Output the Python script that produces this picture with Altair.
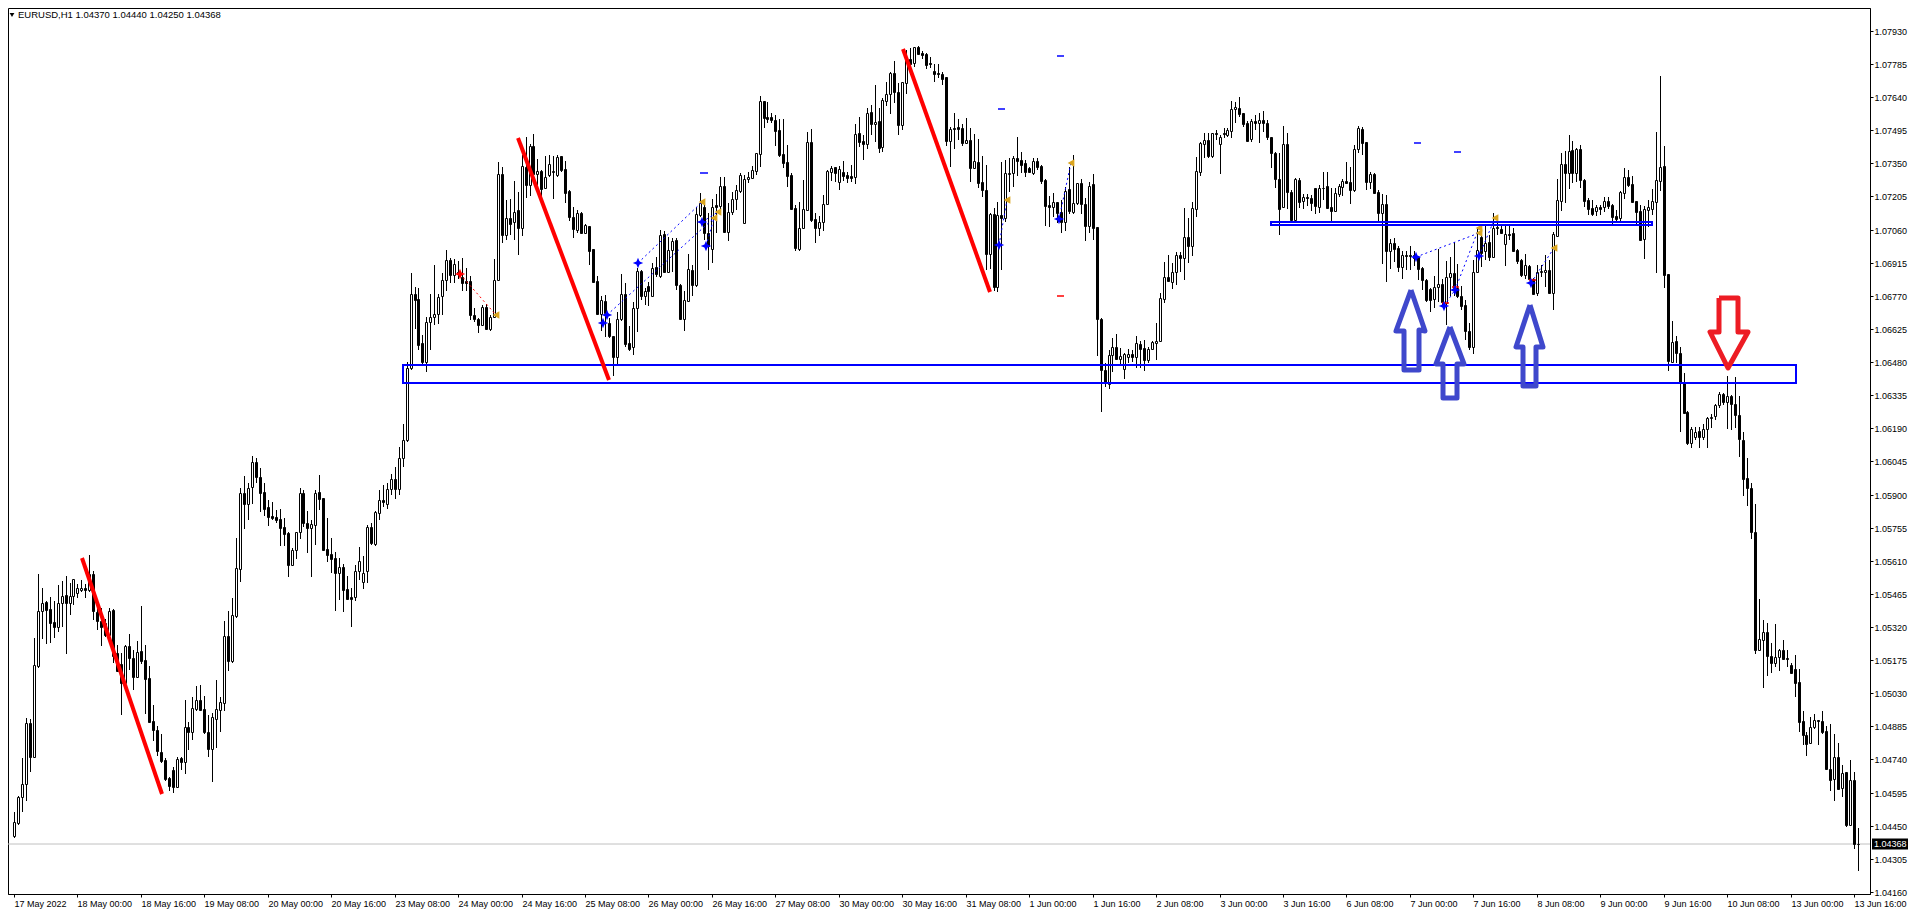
import altair as alt
import pandas as pd

# price values are stored as points above 1.00000 (1 point = 0.00001)
opens = [
4403,4464,4575,4632,4899,4749,5150,5389,5428,5398,
5342,5322,5424,5461,5427,5455,5468,5480,5490,5480,
5551,5386,5348,5337,5285,5395,5205,5159,5074,5236,
5183,5103,5214,5176,5096,4908,4870,4772,4738,4660,
4695,4619,4746,4727,4881,4861,4963,5000,4962,4861,
4784,4919,4957,4989,5281,5169,5370,5576,5906,5859,
5932,6041,5976,5911,5844,5806,5800,5792,5757,5732,
5592,5656,5735,5906,5777,5755,5767,5911,5884,5660,
5638,5621,5558,5584,5485,5450,5453,5567,5519,5565,
5756,5683,5821,5876,5860,5925,5970,5925,6060,6140,
6453,6778,6755,6562,6482,6654,6679,6689,6767,6838,
6926,6862,6876,6854,6835,6834,6685,6668,6640,6721,
6625,6679,6838,7302,7038,7110,7091,7146,7069,7334,
7255,7426,7302,7315,7241,7299,7314,7299,7381,7324,
7229,7114,7059,7131,7047,7075,6975,6834,6689,6746,
6650,6595,6504,6668,6777,6565,6544,6716,6879,6771,
6813,6771,6895,6858,7039,6876,6971,7015,6818,6669,
6749,6883,6818,7124,7158,7047,6975,7168,7165,7251,
7051,7136,7193,7229,7088,7280,7287,7318,7391,7622,
7552,7552,7540,7496,7390,7355,7299,7156,6975,7066,
7146,7442,7105,7069,7095,7171,7314,7333,7270,7311,
7299,7295,7292,7481,7448,7436,7573,7522,7535,7423,
7624,7652,7746,7661,7518,7703,7807,7791,7861,7835,
7829,7791,7753,7746,7741,7727,7449,7503,7508,7505,
7440,7451,7328,7356,7268,7233,6955,7127,6810,7122,
7112,7305,7306,7372,7365,7350,7328,7309,7359,7338,
7277,7168,7160,7179,7138,7092,7236,7138,7175,7262,
7171,7077,7258,7070,6669,6443,6384,6511,6548,6492,
6448,6500,6514,6500,6558,6540,6489,6536,6565,6574,
6758,6854,6832,6876,6947,6934,7026,6990,7149,7314,
7436,7451,7384,7481,7436,7483,7474,7493,7586,7592,
7569,7528,7455,7536,7525,7540,7528,7464,7397,7280,
7158,7435,7226,7102,7277,7183,7202,7197,7242,7158,
7244,7251,7158,7143,7216,7248,7273,7267,7231,7413,
7501,7442,7270,7304,7226,7134,7172,6964,7000,6978,
6898,6949,6949,6949,6939,6891,6840,6800,6755,6810,
6822,6738,6851,6869,6806,6770,6730,6616,6548,6872,
7026,6964,7007,6942,7070,7061,6996,7040,7044,6971,
6927,6859,6901,6843,6781,6875,6872,6883,6784,7032,
7186,7349,7309,7408,7306,7411,7279,7189,7153,7142,
7158,7160,7185,7167,7119,7109,7221,7288,7258,7185,
7141,7017,7145,7150,7179,7274,7338,6865,6481,6572,
6518,6391,6260,6124,6153,6179,6150,6185,6233,6245,
6292,6340,6303,6331,6295,6248,6138,5971,5927,5734,
5219,5263,5300,5195,5161,5187,5219,5183,5154,5135,
5078,4909,4847,4811,4884,4913,4909,4865,4699,4653,
4751,4614,4684,4453,4650,4370]
highs = [
4512,4580,4746,4921,4916,5271,5551,5490,5434,5450,
5433,5504,5522,5544,5512,5532,5507,5525,5509,5636,
5567,5424,5402,5356,5402,5398,5242,5205,5242,5288,
5220,5258,5412,5242,5150,4979,4887,4852,4746,4665,
4706,4749,4749,5001,4906,5013,5062,5067,5018,4935,
4943,5089,5013,5345,5389,5447,5709,5927,5981,5949,
6069,6059,6014,5949,5876,5868,5833,5836,5796,5738,
5665,5738,5927,5920,5830,5789,5920,5986,5886,5796,
5708,5650,5621,5594,5543,5489,5591,5669,5631,5767,
5774,5830,5920,5940,5950,5990,6020,6110,6210,6482,
6869,6808,6803,6599,6676,6778,6905,6778,6869,6971,
6935,6930,6923,6935,6891,6857,6715,6672,6730,6735,
6686,6930,7355,7333,7190,7193,7273,7226,7387,7464,
7435,7479,7368,7321,7382,7385,7380,7387,7384,7362,
7232,7158,7146,7136,7085,7076,6976,6857,6767,6774,
6672,6595,6701,6865,6825,6638,6745,6891,6885,6803,
6832,6913,6939,7058,7054,7029,7022,7022,6820,6791,
6953,6905,7160,7222,7168,7131,7193,7216,7289,7292,
7175,7226,7255,7309,7299,7314,7338,7396,7645,7624,
7617,7572,7562,7546,7544,7430,7306,7168,7179,7277,
7486,7499,7131,7120,7212,7321,7338,7336,7338,7360,
7314,7343,7522,7552,7474,7594,7605,7693,7591,7638,
7708,7748,7798,7700,7708,7846,7854,7861,7864,7843,
7832,7817,7785,7785,7751,7730,7510,7569,7543,7522,
7547,7503,7477,7457,7382,7343,7131,7153,7179,7354,
7365,7372,7384,7464,7401,7365,7335,7372,7372,7343,
7280,7207,7219,7182,7190,7245,7332,7386,7263,7280,
7197,7270,7303,7073,6672,6475,6533,6584,6603,6540,
6520,6536,6533,6594,6574,6577,6548,6574,6650,6781,
6917,6949,6912,6963,6963,7153,7109,7182,7379,7445,
7481,7484,7484,7496,7474,7503,7503,7623,7620,7639,
7572,7535,7545,7560,7570,7580,7540,7467,7401,7397,
7514,7482,7231,7285,7285,7216,7216,7212,7244,7255,
7314,7311,7241,7241,7258,7280,7355,7336,7431,7514,
7508,7445,7314,7307,7231,7216,7212,7018,7022,6986,
6967,6967,6988,6964,6945,6898,6843,6803,6857,6975,
6843,6923,6939,7007,6910,6811,6752,6650,6927,7073,
7073,7076,7037,7134,7124,7080,7076,7076,7066,6974,
6930,6952,6905,6847,6905,6905,6949,6927,7051,7280,
7393,7403,7476,7447,7418,7430,7280,7196,7189,7167,
7167,7204,7204,7174,7145,7230,7328,7320,7294,7186,
7167,7163,7189,7236,7485,7732,7425,6866,6659,6594,
6547,6433,6265,6194,6194,6194,6208,6241,6251,6295,
6350,6346,6419,6335,6413,6331,6172,6058,5949,5858,
5441,5351,5336,5249,5332,5224,5263,5219,5161,5198,
5136,4952,4859,4925,4938,4914,4952,4887,4896,4852,
4811,4716,4685,4738,4685,4440]
lows = [
4395,4454,4508,4556,4683,4745,5142,5268,5246,5252,
5272,5296,5322,5202,5373,5417,5445,5471,5446,5475,
5351,5307,5237,5278,5278,5161,5125,4935,5071,5132,
5042,5100,5159,4940,4899,4819,4753,4724,4644,4604,
4595,4616,4695,4677,4782,4826,4954,4955,4852,4749,
4642,4789,4862,4954,5129,5161,5361,5517,5749,5789,
5859,5949,5825,5806,5760,5789,5777,5675,5675,5541,
5585,5618,5706,5757,5646,5541,5679,5833,5653,5606,
5558,5392,5438,5387,5438,5322,5435,5526,5486,5511,
5679,5675,5788,5845,5835,5900,5880,5900,6020,6130,
6443,6625,6533,6468,6438,6533,6640,6647,6686,6793,
6828,6828,6843,6789,6790,6665,6657,6606,6638,6621,
6618,6672,6835,7003,7015,7037,7015,6949,7032,7197,
7207,7285,7255,7207,7238,7292,7194,7292,7314,7175,
7098,7025,7044,7041,7041,6905,6829,6686,6614,6589,
6584,6417,6472,6660,6548,6530,6511,6613,6752,6730,
6727,6769,6854,6847,6872,6869,6876,6796,6664,6618,
6745,6769,6810,7117,7015,6883,6915,7044,7146,7047,
7010,7124,7146,7222,7085,7263,7282,7299,7336,7505,
7528,7528,7426,7376,7328,7248,7146,6964,6968,7061,
7144,7095,7003,7032,7054,7168,7273,7270,7233,7274,
7263,7267,7260,7423,7365,7413,7474,7445,7397,7401,
7601,7566,7613,7474,7496,7654,7735,7770,7824,7805,
7762,7766,7708,7722,7693,7426,7332,7413,7452,7426,
7438,7270,7325,7243,7204,6883,6888,6791,6785,6883,
7093,7226,7248,7295,7306,7292,7306,7299,7321,7260,
7077,7073,7117,7087,7047,7055,7128,7128,7168,7128,
7012,7044,7014,6508,6263,6372,6364,6438,6489,6467,
6405,6475,6482,6453,6453,6442,6475,6533,6489,6570,
6740,6832,6800,6818,6876,6839,6915,6946,7117,7296,
7372,7375,7372,7452,7303,7459,7467,7459,7528,7551,
7510,7449,7445,7496,7441,7486,7452,7331,7241,7035,
7155,7152,7095,7098,7153,7149,7164,7143,7129,7132,
7190,7149,7095,7139,7204,7207,7260,7172,7226,7394,
7387,7234,7237,7219,7095,6910,6832,6889,6920,6872,
6844,6883,6883,6901,6840,6796,6745,6701,6716,6745,
6723,6643,6767,6767,6759,6708,6577,6533,6516,6869,
6898,6927,6923,6939,7037,7041,6902,7015,6964,6910,
6854,6843,6840,6774,6771,6854,6810,6781,6708,7029,
7142,7177,7236,7262,7269,7244,7160,7123,7120,7119,
7123,7138,7148,7080,7087,7094,7192,7247,7179,7080,
7011,6931,7072,7123,6871,7230,6802,6442,6474,6474,
6175,6255,6117,6105,6139,6105,6139,6105,6190,6226,
6280,6292,6185,6182,6190,6066,5893,5850,5704,5202,
5217,5055,5107,5117,5146,5129,5176,5146,5114,5015,
4862,4804,4753,4807,4875,4804,4852,4694,4604,4556,
4607,4577,4446,4449,4350,4250]
closes = [
4468,4575,4632,4899,4749,5153,5389,5424,5396,5339,
5322,5424,5455,5427,5455,5529,5490,5490,5484,5551,
5388,5348,5322,5285,5389,5191,5129,5074,5236,5183,
5099,5210,5173,5094,4905,4867,4775,4735,4655,4622,
4619,4743,4727,4881,4861,4965,5000,4957,4861,4784,
4925,4960,4992,5281,5173,5372,5577,5906,5859,5927,
6041,5978,5908,5838,5803,5798,5789,5755,5728,5592,
5656,5735,5906,5777,5755,5770,5906,5881,5657,5637,
5616,5558,5581,5482,5443,5443,5567,5610,5558,5756,
5686,5825,5876,5868,5925,5970,5925,6060,6140,6453,
6777,6752,6555,6482,6654,6676,6689,6764,6838,6926,
6860,6908,6866,6828,6828,6684,6668,6640,6720,6625,
6678,6838,7302,7037,7110,7085,7139,7069,7337,7255,
7426,7302,7315,7238,7292,7346,7316,7377,7321,7222,
7113,7061,7131,7047,7080,6968,6832,6689,6751,6694,
6592,6500,6668,6777,6560,6536,6716,6879,6767,6791,
6793,6893,6864,7036,6876,6971,7010,6818,6669,6752,
6886,6818,7128,7175,7047,6990,7160,7160,7251,7048,
7136,7194,7232,7299,7280,7289,7321,7394,7622,7549,
7546,7540,7493,7387,7353,7296,7149,6981,7066,7149,
7442,7102,7069,7095,7171,7317,7328,7309,7324,7295,
7287,7287,7477,7445,7436,7569,7522,7532,7419,7627,
7652,7746,7661,7518,7705,7805,7785,7858,7829,7826,
7781,7785,7743,7740,7718,7449,7499,7499,7502,7440,
7451,7331,7359,7265,7232,6955,7128,6810,7122,7112,
7306,7308,7372,7362,7344,7314,7311,7359,7335,7274,
7165,7160,7179,7131,7092,7230,7143,7175,7262,7171,
7077,7252,7068,6670,6443,6390,6510,6548,6495,6507,
6514,6514,6504,6562,6537,6489,6539,6569,6574,6759,
6851,6835,6876,6947,6937,7026,6990,7153,7315,7438,
7451,7384,7481,7477,7464,7477,7496,7586,7595,7566,
7522,7449,7536,7525,7540,7528,7464,7397,7280,7152,
7435,7226,7102,7282,7181,7202,7196,7178,7161,7241,
7243,7155,7143,7219,7251,7273,7263,7231,7412,7504,
7441,7270,7302,7222,7134,7172,6968,7000,6975,6898,
6949,6945,6943,6937,6888,6837,6752,6752,6810,6821,
6742,6851,6869,6803,6767,6727,6614,6548,6873,6971,
6956,7003,6942,7066,7068,7044,7040,7037,6968,6924,
6859,6905,6843,6777,6876,6880,6883,6784,7041,7190,
7349,7309,7403,7306,7411,7279,7186,7151,7128,7157,
7151,7185,7163,7116,7107,7223,7288,7255,7182,7138,
7014,7148,7157,7185,7279,7335,6862,6486,6569,6518,
6389,6258,6124,6185,6172,6150,6185,6233,6241,6290,
6338,6303,6331,6295,6248,6141,5966,5927,5737,5219,
5266,5300,5195,5161,5187,5219,5180,5179,5120,5076,
4906,4845,4809,4884,4913,4907,4862,4699,4650,4750,
4611,4680,4453,4650,4370,4368]

date_labels = ["17 May 2022","18 May 00:00","18 May 16:00","19 May 08:00","20 May 00:00","20 May 16:00",
 "23 May 08:00","24 May 00:00","24 May 16:00","25 May 08:00","26 May 00:00","26 May 16:00","27 May 08:00",
 "30 May 00:00","30 May 16:00","31 May 08:00","1 Jun 00:00","1 Jun 16:00","2 Jun 08:00","3 Jun 00:00",
 "3 Jun 16:00","6 Jun 08:00","7 Jun 00:00","7 Jun 16:00","8 Jun 08:00","9 Jun 00:00","9 Jun 16:00",
 "10 Jun 08:00","13 Jun 00:00","13 Jun 16:00"]
price_ticks = [1.07930,1.07785,1.07640,1.07495,1.07350,1.07205,1.07060,1.06915,1.06770,1.06625,1.06480,
 1.06335,1.06190,1.06045,1.05900,1.05755,1.05610,1.05465,1.05320,1.05175,1.05030,1.04885,1.04740,1.04595,
 1.04450,1.04305,1.04160]
last_price = 1.04368
header = "EURUSD,H1  1.04370 1.04440 1.04250 1.04368"

# drawn objects: (bar index, points)
zones = [(98.0, 449.25, 6468, 6390), (317.0, 413.0, 7095, 7079)]
red_trend = [[(17.1, 5621), (37.2, 4590)], [(127.1, 7460), (150.1, 6402)], [(224.1, 7849), (246.1, 6785)]]
up_arrows = [
 [(352.25,6796),(348.58,6616),(350.5,6616),(350.5,6446),(354.25,6446),(354.25,6621),(355.92,6616),(352.25,6796)],
 [(362.08,6635),(358.58,6471),(360.25,6471),(360.25,6322),(363.83,6322),(363.83,6471),(365.75,6471),(362.08,6635)],
 [(382.17,6730),(378.83,6545),(380.5,6545),(380.5,6373),(383.83,6373),(383.83,6548),(385.5,6548),(382.17,6730)],
]
down_arrow = [(429.83,6762),(434.83,6762),(434.83,6613),(437.17,6613),(432.33,6455),(427.58,6613),(429.83,6613),(429.83,6762)]
blue_marks = [(264,7818),(249,7588),(174,7307),(354,7439),(364,7398)]
red_marks = [(264,6769),(361,6738),(363.4,6808),(383,6837)]
blue_trades = [
 [(157.42,6912),(173.42,7179)], [(149.42,6685),(176.58,7109)], [(174.5,6987),(176.58,7109)],
 [(173.58,7092),(177.42,7136)], [(248.42,6993),(250.5,7188)], [(263.42,7105),(266.5,7350)],
 [(353.42,6939),(369.42,7044)], [(363.42,6796),(369.42,7066)], [(360.5,6726),(363.42,6796)],
 [(369.42,6945),(373.42,7110)], [(382.58,6825),(388.42,6978)],
]
red_trades = [[(112.42,6865),(121.5,6685)]]
blue_stars = [(157.42,6912),(149.42,6685),(148.42,6650),(174.5,6987),(173.58,7092),(248.42,6993),(263.42,7105),
              (353.42,6939),(360.5,6726),(363.42,6796),(369.42,6945),(382.58,6825)]
red_stars = [(112.42,6865)]
gold_marks = [(121.5,6685),(173.42,7179),(176.58,7109),(177.42,7136),(250.5,7188),(266.5,7350),
              (369.42,7044),(369.42,7066),(373.42,7110),(388.42,6978)]

P = lambda pts: 1 + pts / 1e5
FONT = "Liberation Sans"
LABEL_SIZE = 9
W, H = 1862, 886

x_scale = alt.Scale(domain=[-0.2508, 466.76], range=[0, W], nice=False, zero=False, round=True)
y_scale = alt.Scale(domain=[1.04151, 1.08030], range=[H, 0], nice=False, zero=False, round=True)
expr = "[" + ",".join(f"'{s}'" for s in date_labels) + "][round(datum.value/16)]"
x_axis = alt.Axis(
    values=[16 * i for i in range(len(date_labels))], labelExpr=expr, grid=False, labelAlign="left", title=None,
    labelFont=FONT, labelFontSize=LABEL_SIZE, labelColor="black", tickColor="black", domainColor="black",
    tickSize=3, labelPadding=2, labelOverlap=False, labelFlush=False, labelBound=False)
y_axis = alt.Axis(
    orient="right", values=price_ticks, format=".5f", grid=False, title=None,
    labelFont=FONT, labelFontSize=LABEL_SIZE, labelColor="black", tickColor="black", domainColor="black",
    tickSize=3, labelPadding=1, labelOverlap=False, labelFlush=False, labelBound=False)
X = lambda f="bar": alt.X(f"{f}:Q", scale=x_scale, axis=x_axis)
Y = lambda f="price": alt.Y(f"{f}:Q", scale=y_scale, axis=y_axis)

c = pd.DataFrame({"bar": range(len(opens)), "o": opens, "h": highs, "l": lows, "c": closes})
c["top"] = P(c[["o", "c"]].max(axis=1))
c["bot"] = P(c[["o", "c"]].min(axis=1))
c["hi"] = P(c["h"])
c["lo"] = P(c["l"])
c["dir"] = ["up" if a >= b else "down" for a, b in zip(c["c"], c["o"])]

def paths(groups):
    return pd.DataFrame([{"g": g, "i": i, "bar": b, "price": P(p)}
                         for g, pts in enumerate(groups) for i, (b, p) in enumerate(pts)])

def points(pts):
    return pd.DataFrame([{"bar": b, "price": P(p)} for b, p in pts])

def line_layer(groups, color, width, **kw):
    return alt.Chart(paths(groups)).mark_line(color=color, strokeWidth=width, strokeJoin="round", **kw).encode(
        x=X(), y=Y(), detail="g:N", order="i:Q")

def dash_layer(pts, color):
    d = pd.DataFrame([{"a": b - 0.9, "b": b + 0.9, "price": P(p)} for b, p in pts])
    return alt.Chart(d).mark_rule(color=color, strokeWidth=1.5).encode(x=X("a"), x2="b:Q", y=Y())

price_line = alt.Chart(pd.DataFrame({"price": [last_price]})).mark_rule(color="#c0c0c0", strokeWidth=1).encode(
    y=Y(), x=alt.value(0), x2=alt.value(W))
wicks = alt.Chart(c).mark_rule(color="black", strokeWidth=1, xOffset=0.5).encode(x=X(), y=Y("hi"), y2="lo:Q")
bodies = alt.Chart(c).mark_bar(size=2, stroke="black", strokeWidth=1, xOffset=0.5, yOffset=0.5, y2Offset=0.5,
                               orient="vertical").encode(
    x=X(), y=Y("top"), y2="bot:Q",
    fill=alt.Fill("dir:N", scale=alt.Scale(domain=["up", "down"], range=["white", "black"]), legend=None))

z = pd.DataFrame([{"a": a, "b": b, "top": P(t), "bot": P(u)} for a, b, t, u in zones])
zone_layer = alt.Chart(z).mark_rect(filled=False, stroke="#0000ff", strokeWidth=2).encode(
    x=X("a"), x2="b:Q", y=Y("top"), y2="bot:Q")

star = "M-1,0L-0.3,-0.3L0,-1L0.3,-0.3L1,0L0.3,0.3L0,1L-0.3,0.3Z"
blue_star_layer = alt.Chart(points(blue_stars)).mark_point(shape=star, filled=True, color="#0000ff", size=110, opacity=1).encode(x=X(), y=Y())
red_star_layer = alt.Chart(points(red_stars)).mark_point(shape=star, filled=True, color="#ff0000", size=110, opacity=1).encode(x=X(), y=Y())
gold_layer = alt.Chart(points(gold_marks)).mark_point(shape="triangle-left", filled=True, color="#daa520", size=60, opacity=1).encode(x=X(), y=Y())

last_box = alt.Chart(pd.DataFrame({"price": [last_price]})).mark_rule(color="black", strokeWidth=11).encode(
    y=Y(), x=alt.value(W + 2), x2=alt.value(W + 38))
last_text = alt.Chart(pd.DataFrame({"price": [last_price], "t": [f"{last_price:.5f}"]})).mark_text(
    color="white", font=FONT, fontSize=LABEL_SIZE, align="left").encode(y=Y(), x=alt.value(W + 4), text="t:N")
head_text = alt.Chart(pd.DataFrame({"t": [header]})).mark_text(
    color="black", font=FONT, fontSize=9.5, align="left").encode(x=alt.value(10), y=alt.value(7), text="t:N")
head_tri = alt.Chart(pd.DataFrame({"t": ["x"]})).mark_point(
    shape="triangle-down", filled=True, color="black", size=22, opacity=1).encode(x=alt.value(4), y=alt.value(7))

chart = alt.layer(
    price_line, wicks, bodies,
    line_layer(blue_trades, "#0000ff", 1, strokeDash=[2, 3]),
    line_layer(red_trades, "#ff0000", 1, strokeDash=[2, 3]),
    dash_layer(blue_marks, "#0000ff"), dash_layer(red_marks, "#ff0000"),
    blue_star_layer, red_star_layer, gold_layer,
    zone_layer,
    line_layer(red_trend, "#ff0000", 4),
    line_layer(up_arrows, "#3f48cc", 5),
    line_layer([down_arrow], "#ed1c24", 5),
    last_box, last_text, head_tri, head_text,
).properties(
    width=W, height=H, background="white",
    autosize=alt.AutoSizeParams(type="none"),
    padding={"left": 0, "top": 0, "right": 38, "bottom": 15},
).configure_view(stroke="black", strokeWidth=1)

chart.save("out.html", embed_options={"renderer": "svg", "actions": False})
